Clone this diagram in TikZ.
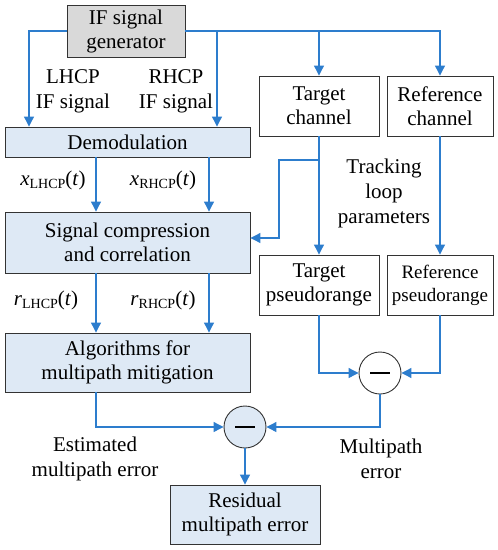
\documentclass[tikz,border=0pt]{standalone}
\usepackage{fontspec}
\newfontfamily\tnr{Liberation Serif}
\usetikzlibrary{arrows.meta}
\definecolor{lblue}{RGB}{45,125,205}
\definecolor{boxfill}{RGB}{222,233,245}
\definecolor{genfill}{RGB}{217,217,217}
\tikzset{
 box/.style={draw=black!80, line width=0.9pt, align=center, inner sep=0pt, font=\tnr\fontsize{21}{24}\selectfont},
 bluebox/.style={box, fill=boxfill},
 conn/.style={draw=lblue, line width=1.1pt},
 arr/.style={conn, -{Triangle[length=10pt,width=10pt]}},
 lbl/.style={align=center, inner sep=0pt, font=\tnr\fontsize{21}{25}\selectfont},
 sumc/.style={circle, draw=black!80, line width=0.9pt, minimum size=42pt, inner sep=0pt},
 minusbar/.style={line width=2.5pt, black},
}
\newcommand{\sigl}[2]{\textit{#1}\raisebox{-0.35ex}{\fontsize{14}{14}\selectfont #2}(\textit{t})}
\begin{document}
\begin{tikzpicture}[x=1pt,y=-1pt]
\useasboundingbox (0,0) rectangle (498,550);
% boxes
\node[box, fill=genfill, minimum width=118pt, minimum height=52pt] (gen) at (126,31) {IF signal\\generator};
\node[box, minimum width=120pt, minimum height=60pt] (tc) at (319,106) {Target\\channel};
\node[box, minimum width=106pt, minimum height=60pt] (rc) at (440,106) {Reference\\channel};
\node[bluebox, minimum width=245pt, minimum height=30pt] (demod) at (127.5,142) {Demodulation};
\node[bluebox, minimum width=245pt, minimum height=61pt] (sc) at (127.5,242.5) {Signal compression\\and correlation};
\node[box, minimum width=120pt, minimum height=60pt] (tp) at (319,285) {Target\\pseudorange};
\node[box, minimum width=106pt, minimum height=60pt, font=\tnr\fontsize{19}{23}\selectfont] (rp) at (440,285) {Reference\\pseudorange};
\node[bluebox, minimum width=245pt, minimum height=59pt] (alg) at (127.5,362.5) {Algorithms for\\multipath mitigation};
\node[sumc, fill=white] (c1) at (380,373) {};
\node[sumc, fill=boxfill] (c2) at (245,427) {};
\node[bluebox, minimum width=150pt, minimum height=59pt] (res) at (245,514.5) {Residual\\multipath error};
\draw[minusbar] ([xshift=-10pt]c1.center) -- ([xshift=10pt]c1.center);
\draw[minusbar] ([xshift=-10pt]c2.center) -- ([xshift=10pt]c2.center);
% labels
\node[lbl] (l1) at (73,91) {LHCP\\IF signal};
\node[lbl] (l2) at (176,91) {RHCP\\IF signal};
\node[lbl] (l3) at (53,180) {\sigl{x}{LHCP}};
\node[lbl] (l4) at (163,180) {\sigl{x}{RHCP}};
\node[lbl] (l5) at (46,300) {\sigl{r}{LHCP}};
\node[lbl] (l6) at (163,300) {\sigl{r}{RHCP}};
\node[lbl] (l7) at (384,193) {Tracking\\loop\\parameters};
\node[lbl] (l8) at (95,459) {Estimated\\multipath error};
\node[lbl] (l9) at (381,459) {Multipath\\error};
% helper coordinates
\coordinate (xl) at (29,0);
\coordinate (xr) at (217,0);
\coordinate (xa) at (96,0);
\coordinate (xb) at (209,0);
\coordinate (fb) at (279,160);
\coordinate (fby) at (0,238);
% connectors
\draw[arr] (gen.west) -| (xl |- demod.north);
\draw[arr] (gen.east) -| (xr |- demod.north);
\draw[arr] (gen.east) -| (rc.north);
\draw[arr] (tc.north |- gen.east) -- (tc.north);
\draw[arr] (xa |- demod.south) -- (xa |- sc.north);
\draw[arr] (xb |- demod.south) -- (xb |- sc.north);
\draw[arr] (xa |- sc.south) -- (xa |- alg.north);
\draw[arr] (xb |- sc.south) -- (xb |- alg.north);
\draw[arr] (tc.south) -- (tp.north);
\draw[arr] (tc.south |- fb) -- (fb) -- (fb |- fby) -- (sc.east |- fby);
\draw[arr] (rc.south) -- (rp.north);
\draw[arr] (tp.south) |- (c1.west);
\draw[arr] (rp.south) |- (c1.east);
\draw[arr] (xa |- alg.south) |- (c2.west);
\draw[arr] (c1.south) |- (c2.east);
\draw[arr] (c2.south) -- (res.north);
\end{tikzpicture}
\end{document}
